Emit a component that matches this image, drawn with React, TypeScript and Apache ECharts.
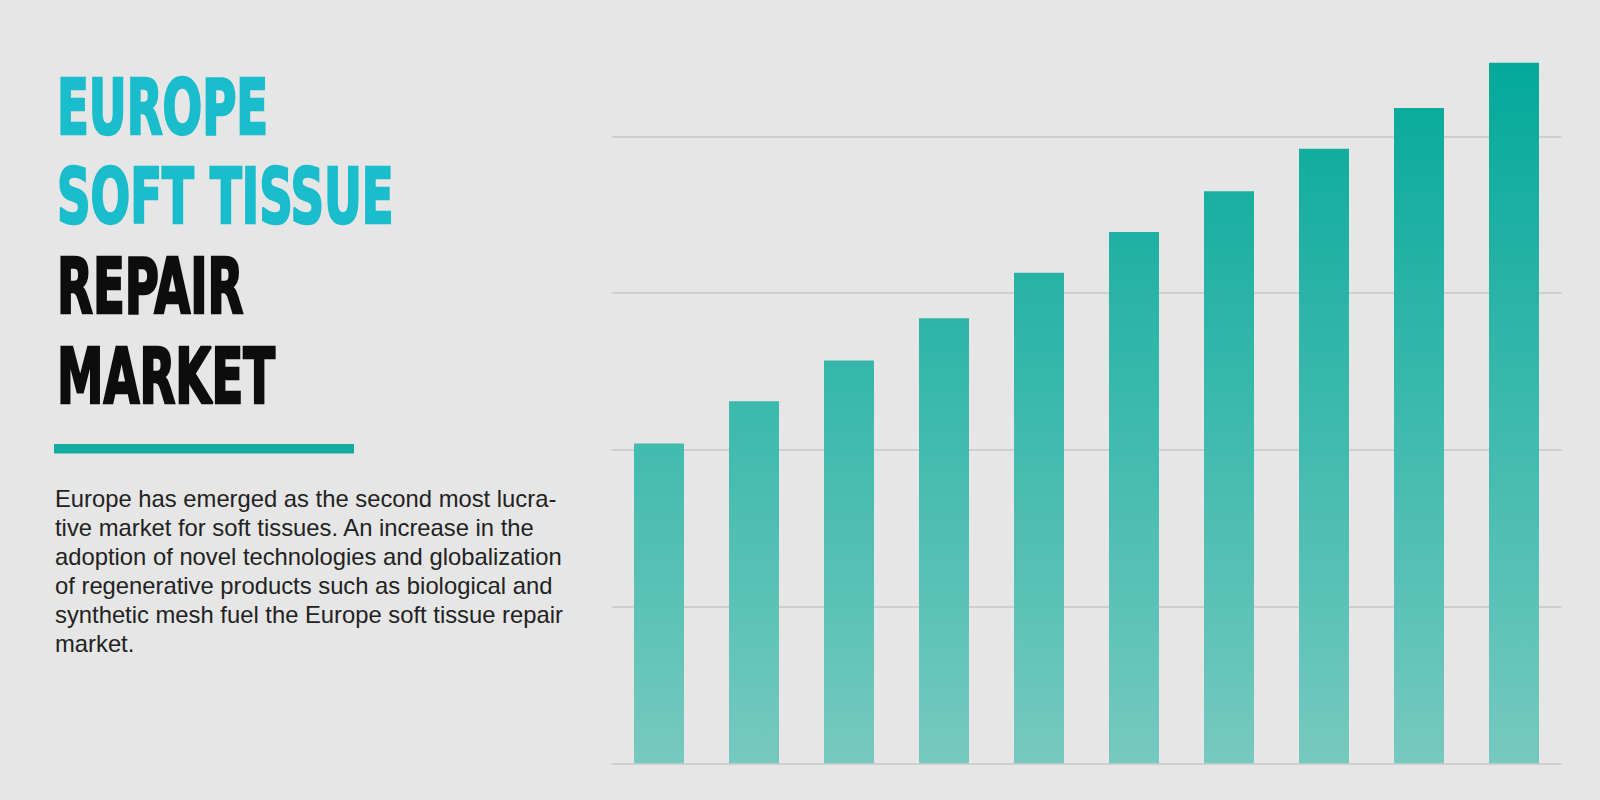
import React, { useEffect, useRef } from "react";
import * as echarts from "echarts";

const years = ["2022", "2023", "2024", "2025", "2026", "2027", "2028", "2029", "2030", "2031"];
const marketValues = [2.04, 2.31, 2.57, 2.84, 3.13, 3.39, 3.65, 3.92, 4.18, 4.47];
const axisMax = 4;
const axisStep = 1;

const titleTeal = ["EUROPE", "SOFT TISSUE"];
const titleDark = ["REPAIR", "MARKET"];
const bodyLines = [
  "Europe has emerged as the second most lucra-",
  "tive market for soft tissues. An increase in the",
  "adoption of novel technologies and globalization",
  "of regenerative products such as biological and",
  "synthetic mesh fuel the Europe soft tissue repair",
  "market.",
];

export default function App() {
  const ref = useRef<HTMLDivElement>(null);
  useEffect(() => {
    if (!ref.current) return;
    const chart = echarts.init(ref.current, null, { renderer: "svg" });

    const titleFamily = "'DejaVu Sans Condensed', 'DejaVu Sans', sans-serif";
    const titleSize = 77;
    const ctx = document.createElement("canvas").getContext("2d")!;
    ctx.font = `bold ${titleSize}px ${titleFamily}`;
    const w = ctx.measureText("SOFT TISSUE").width || 530;
    const sx = 337 / w;

    const titleLines = [
      ...titleTeal.map((t) => ({ t, c: "#19bdcb" })),
      ...titleDark.map((t) => ({ t, c: "#0d0d0d" })),
    ];
    const titleYs = [68.75, 157.25, 247.25, 337.25];

    const graphics: any[] = titleLines.map((l, i) => ({
      type: "text",
      x: 57,
      y: titleYs[i],
      scaleX: sx,
      style: {
        text: l.t,
        fill: l.c,
        stroke: l.c,
        lineWidth: 2.5,
        fontFamily: titleFamily,
        fontSize: titleSize,
        fontWeight: "bold",
        lineHeight: titleSize,
        align: "left",
        verticalAlign: "top",
      },
    }));
    graphics.push({
      type: "rect",
      shape: { x: 54, y: 444, width: 300, height: 9.5 },
      style: { fill: "#12ada0" },
    });
    graphics.push({
      type: "text",
      x: 55,
      y: 484.3,
      style: {
        text: bodyLines.join("\n"),
        fill: "#222222",
        fontFamily: "'Liberation Sans', Arial, sans-serif",
        fontSize: 23.8,
        lineHeight: 28.9,
        align: "left",
        verticalAlign: "top",
      },
    });

    chart.setOption({
      animation: false,
      backgroundColor: "#e6e6e6",
      grid: { left: 611.5, right: 38.5, top: 136.3, bottom: 36.7 },
      xAxis: {
        type: "category",
        data: years,
        axisLine: { show: false },
        axisTick: { show: false },
        axisLabel: { show: false },
      },
      yAxis: {
        type: "value",
        min: 0,
        max: axisMax,
        interval: axisStep,
        axisLine: { show: false },
        axisTick: { show: false },
        axisLabel: { show: false },
        splitLine: { show: true, lineStyle: { color: "#cfcfcf", width: 2 } },
      },
      series: [
        {
          type: "bar",
          data: marketValues,
          barWidth: 50,
          clip: false,
          itemStyle: {
            color: new echarts.graphic.LinearGradient(
              0, 62, 0, 763,
              [
                { offset: 0, color: "#03a99a" },
                { offset: 1, color: "#76c9c0" },
              ],
              true
            ),
          },
        },
      ],
      graphic: graphics,
    });
    return () => chart.dispose();
  }, []);
  return (
    <div
      ref={ref}
      style={{ position: "fixed", left: 0, top: 0, width: 1600, height: 800, background: "#e6e6e6" }}
    />
  );
}
